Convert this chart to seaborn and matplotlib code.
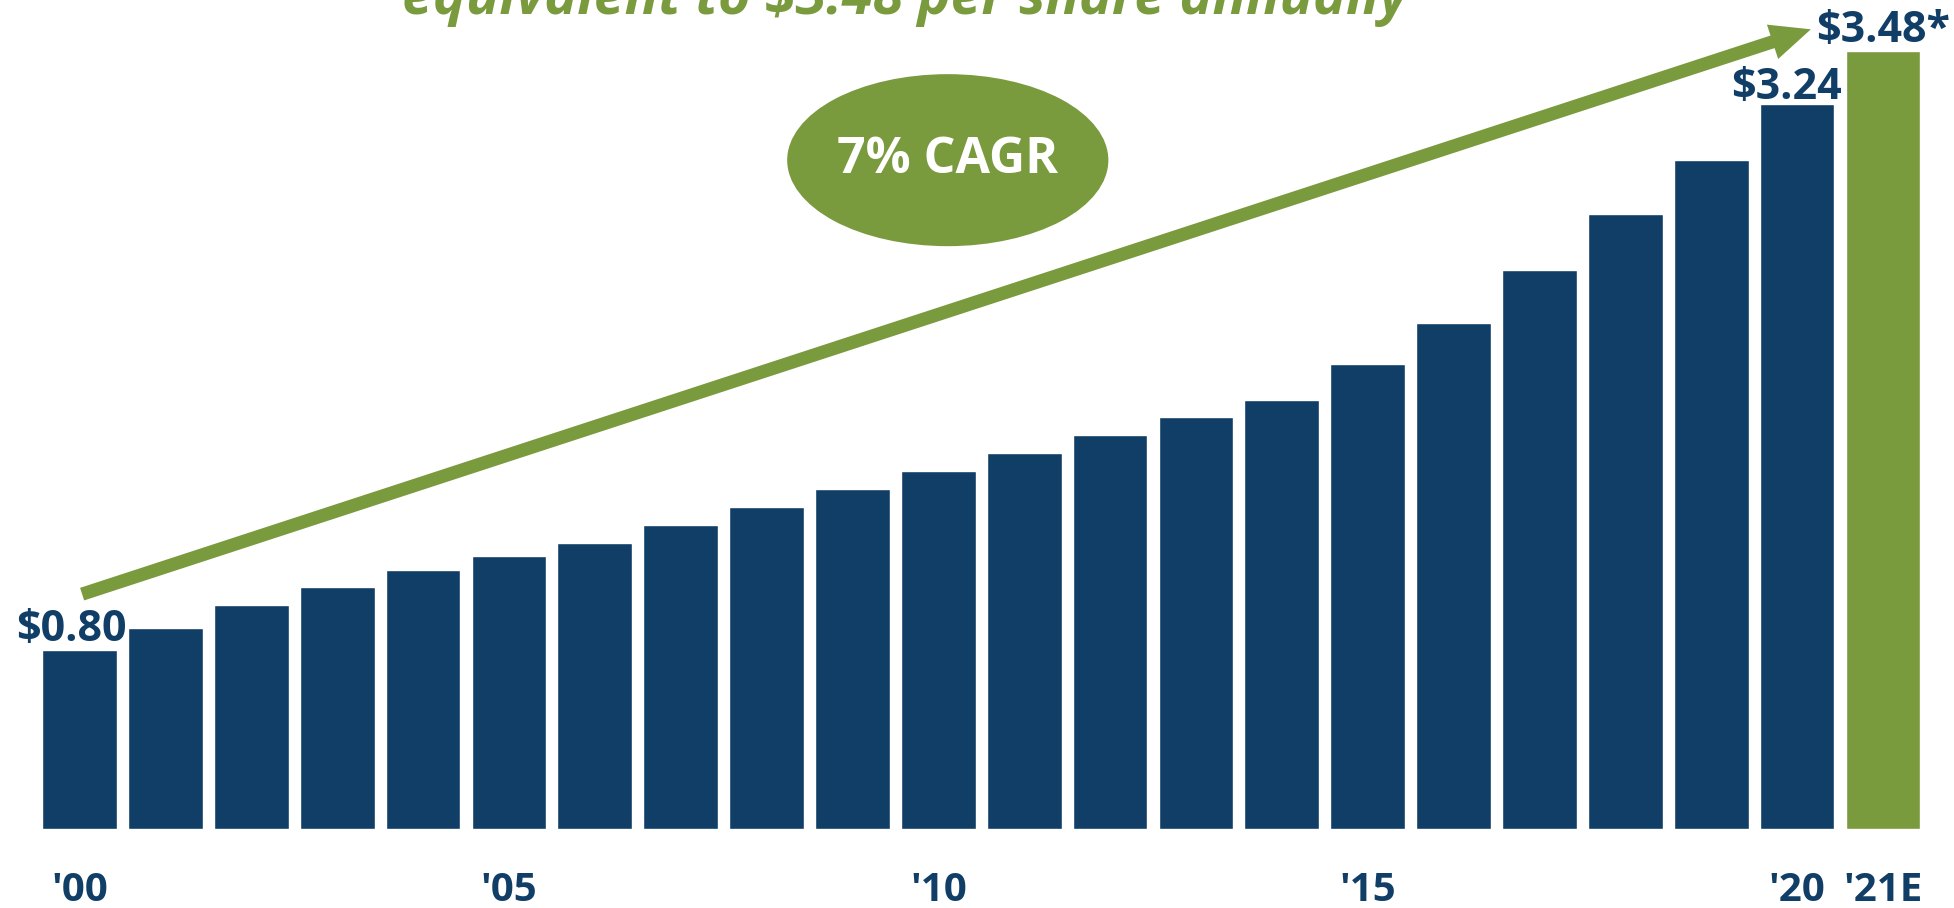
import matplotlib
matplotlib.use("Agg")
import matplotlib.pyplot as plt
import seaborn as sns
import pandas as pd
from matplotlib.patches import Ellipse

years = ["'00", "'01", "'02", "'03", "'04", "'05", "'06", "'07", "'08", "'09", "'10",
         "'11", "'12", "'13", "'14", "'15", "'16", "'17", "'18", "'19", "'20", "'21E"]
dividends = [0.80, 0.90, 1.00, 1.08, 1.16, 1.22, 1.28, 1.36, 1.44, 1.52, 1.60,
             1.68, 1.76, 1.84, 1.92, 2.08, 2.26, 2.50, 2.75, 2.99, 3.24, 3.48]
shown_ticks = ["'00", "'05", "'10", "'15", "'20", "'21E"]
value_labels = {0: "$0.80", 20: "$3.24", 21: "$3.48*"}
title_text = "equivalent to $3.48 per share annually"
cagr_text = "7% CAGR"

NAVY = "#103E66"
GREEN = "#7A9A3E"

sns.set_theme(style="white")
plt.rcParams['font.family'] = ['Open Sans', 'DejaVu Sans']

df = pd.DataFrame({"year": years, "div": dividends})
colors = [NAVY] * (len(years) - 1) + [GREEN]

fig = plt.figure(figsize=(19.54, 9.08), dpi=100)
ax = fig.add_axes([0.01873, 0.087, 0.9669, 0.913])
sns.barplot(data=df, x="year", y="div", hue="year", palette=colors, legend=False,
            width=0.87, saturation=1, ax=ax)
ax.set_xlim(-0.5, 21.5)
ax.set_ylim(0, 3.706)
for s in ax.spines.values():
    s.set_visible(False)
ax.set_yticks([])
ax.set_xlabel("")
ax.set_ylabel("")
ax.set_xticks(range(len(years)))
ax.set_xticklabels([y if y in shown_ticks else "" for y in years],
                   fontsize=29, fontweight="bold", color=NAVY)
ax.tick_params(axis="x", length=0, pad=30)

for i, lab in value_labels.items():
    dx = -0.1 if i == 0 else (-0.12 if i == 20 else 0)
    off = -0.02 if i == 20 else -0.005
    ax.text(i + dx, dividends[i] + off, lab, ha="center", va="bottom",
            fontsize=31, fontweight="bold", color=NAVY)

# Arrow
ax.annotate("", xy=(20.16, 3.575), xytext=(0.03, 1.05),
            arrowprops=dict(arrowstyle="simple,head_length=2.9,head_width=2.6,tail_width=0.95",
                            facecolor=GREEN, edgecolor="none", lw=0, mutation_scale=10,
                            shrinkA=0, shrinkB=0),
            annotation_clip=False)

# Ellipse
ax.add_patch(Ellipse((10.11, 2.99), 3.74, 0.769, facecolor=GREEN, edgecolor="none", zorder=5))
ax.text(10.11, 2.99, cagr_text, ha="center", va="center", fontsize=36,
        fontweight="bold", color="white", zorder=6)

# Title (cropped at top)
fig.text(0.4633, 1 - 14 / 908, title_text, ha="center", va="baseline",
         fontsize=40, fontweight="bold", fontstyle="italic", color=GREEN)

fig.savefig("out.png", dpi=100)
